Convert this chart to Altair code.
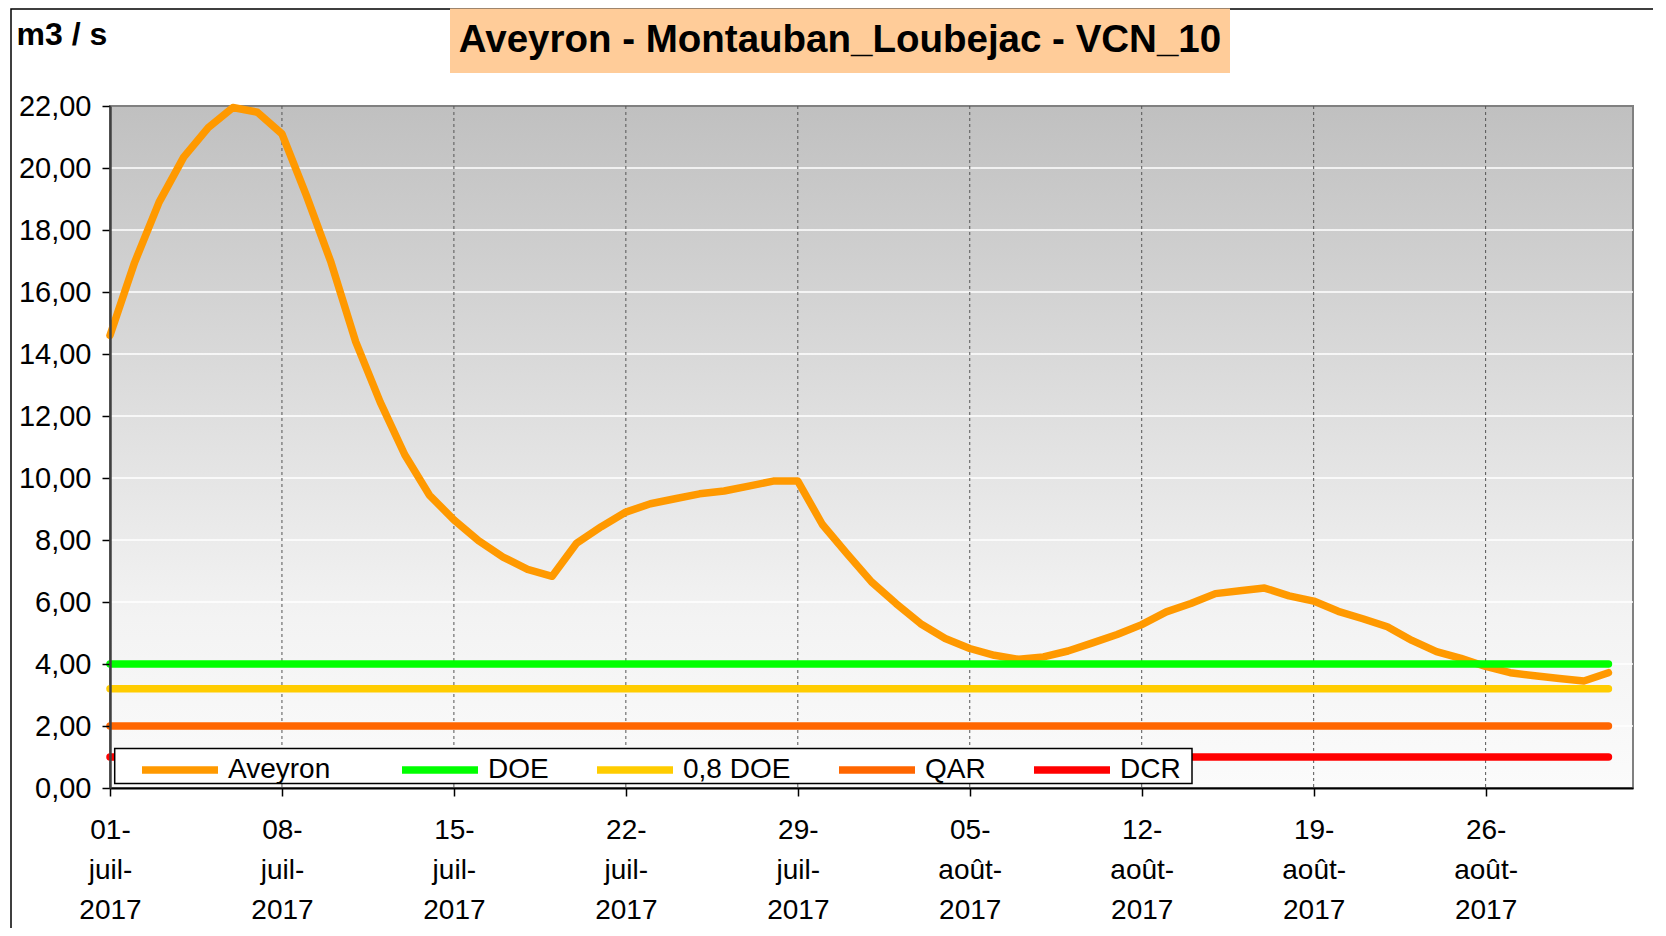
import json
import altair as alt
import pandas as pd

# ---------------- data ----------------
TITLE = "Aveyron - Montauban_Loubejac - VCN_10"
Y_TITLE = "m3 / s"

DATES = pd.date_range("2017-07-01", "2017-08-31", freq="D").strftime("%Y-%m-%d").tolist()

AVEYRON = [
    14.6, 16.95, 18.9, 20.35, 21.3, 21.95, 21.8, 21.1, 19.1, 16.95,
    14.4, 12.45, 10.75, 9.45, 8.65, 7.98, 7.45, 7.05, 6.83, 7.9,
    8.43, 8.9, 9.17, 9.33, 9.49, 9.58, 9.74, 9.9, 9.9, 8.5,
    7.56, 6.65, 5.95, 5.3, 4.82, 4.5, 4.28, 4.15, 4.23, 4.42,
    4.68, 4.95, 5.27, 5.68, 5.95, 6.27, 6.36, 6.45, 6.2, 6.03,
    5.7, 5.46, 5.2, 4.76, 4.4, 4.18, 3.92, 3.72, 3.62, 3.53,
    3.45, 3.72,
]

SERIES = ["Aveyron", "DOE", "0,8 DOE", "QAR", "DCR"]
COLORS = ["#FF9900", "#00FF00", "#FFCC00", "#FF6600", "#FF0000"]
THRESHOLD_NAMES = ["DOE", "0,8 DOE", "QAR", "DCR"]
THRESHOLD_VALUES = [4.0, 3.2, 2.0, 1.0]

Y_TICKS = [0, 2, 4, 6, 8, 10, 12, 14, 16, 18, 20, 22]
Y_GRID = [2, 4, 6, 8, 10, 12, 14, 16, 18, 20]
X_TICK_DAYS = [0, 7, 14, 21, 28, 35, 42, 49, 56]
X_TICK_LABELS = [
    ["01-", "juil-", "2017"], ["08-", "juil-", "2017"], ["15-", "juil-", "2017"],
    ["22-", "juil-", "2017"], ["29-", "juil-", "2017"], ["05-", "août-", "2017"],
    ["12-", "août-", "2017"], ["19-", "août-", "2017"], ["26-", "août-", "2017"],
]

# ---------------- tables ----------------
flow = pd.DataFrame({
    "day": list(range(len(DATES))),
    "date": DATES,
    "value": AVEYRON,
    "series": "Aveyron",
})
last_day = len(DATES) - 1
thr_rows = []
for name, val in zip(THRESHOLD_NAMES, THRESHOLD_VALUES):
    thr_rows.append({"day": 0, "date": DATES[0], "value": val, "series": name})
    thr_rows.append({"day": last_day, "date": DATES[-1], "value": val, "series": name})
thresholds = pd.DataFrame(thr_rows)

hgrid = pd.DataFrame({"value": Y_GRID})
vgrid = pd.DataFrame({"day": X_TICK_DAYS[1:]})
one = pd.DataFrame({"t": [TITLE]})

W, H = 1523, 682
LABEL_FONT = "Liberation Sans"
PAD = "\u00a0\u00a0\u00a0\u200b"   # trailing room after "Aveyron" (kept from trimming)

x_scale = alt.Scale(domain=[0, 62], nice=False, zero=False)
y_scale = alt.Scale(domain=[0, 22], nice=False)

x_axis = alt.Axis(
    values=X_TICK_DAYS,
    labelExpr=f"{json.dumps(X_TICK_LABELS, ensure_ascii=False)}[round(datum.value / 7)]",
    title=None, grid=False, labelFont=LABEL_FONT, labelFontSize=28, labelColor="black",
    labelAlign="center", labelBaseline="top", labelLineHeight=40.4, labelPadding=20,
    labelFlush=False, labelOverlap=False, labelBound=False,
    tickSize=8, tickColor="black", tickWidth=1.5,
    domainColor="black", domainWidth=2, zindex=1,
)
y_axis = alt.Axis(
    values=Y_TICKS,
    labelExpr="replace(format(datum.value, '.2f'), '.', ',')",
    title=Y_TITLE, titleAngle=0, titleAlign="left", titleBaseline="middle",
    titleX=-94, titleY=-72, titleFont="Liberation Sans", titleFontWeight="bold",
    titleFontSize=32, titleColor="black",
    grid=False, labelFont=LABEL_FONT, labelFontSize=29, labelColor="black",
    labelPadding=11, labelOverlap=False, labelFlush=False,
    tickSize=8, tickColor="black", tickWidth=1.5,
    domainColor="#404040", domainWidth=2.5, zindex=1,
)

X = alt.X("day:Q", scale=x_scale, axis=x_axis)
Y = alt.Y("value:Q", scale=y_scale, axis=y_axis)

color = alt.Color(
    "series:N",
    scale=alt.Scale(domain=SERIES, range=COLORS),
    legend=alt.Legend(
        title=None, orient="none", legendX=28, legendY=622, direction="horizontal",
        symbolType="stroke", symbolSize=5776, symbolStrokeWidth=7.5,
        labelFont=LABEL_FONT, labelFontSize=28, labelColor="black",
        labelExpr=f"datum.label == 'Aveyron' ? 'Aveyron{PAD}' : datum.label",
        labelOffset=6, columnPadding=33, padding=0, labelLimit=400,
    ),
)

frame = alt.Chart(one).mark_rect(filled=False, stroke="black", strokeWidth=1.5).encode(
    x=alt.value(-99), x2=alt.value(1700), y=alt.value(-97), y2=alt.value(1000)
)
title_box = alt.Chart(one).mark_rect(color="#FFCC99").encode(
    x=alt.value(340), x2=alt.value(1120), y=alt.value(-97.5), y2=alt.value(-33)
)
title_text = alt.Chart(one).mark_text(
    font="Liberation Sans", fontSize=38.5, fontWeight="bold", align="center",
    baseline="middle", color="black"
).encode(x=alt.value(730), y=alt.value(-66), text="t:N")

background = alt.Chart(one).mark_rect(
    fill={
        "gradient": "linear", "x1": 0, "y1": 0, "x2": 0, "y2": 1,
        "stops": [
            {"offset": 0, "color": "#C0C0C0"},
            {"offset": 0.75, "color": "#F3F3F3"},
            {"offset": 1, "color": "#FBFBFB"},
        ],
    },
    stroke="#808080", strokeWidth=2,
).encode(x=alt.value(0), x2=alt.value(W), y=alt.value(0), y2=alt.value(H))

hrules = alt.Chart(hgrid).mark_rule(color="white", strokeWidth=1.5).encode(y=Y)
vrules = alt.Chart(vgrid).mark_rule(color="#555555", strokeWidth=1, strokeDash=[3, 3]).encode(x=X)

flow_line = alt.Chart(flow).mark_line(strokeWidth=7.5, strokeCap="round", strokeJoin="round").encode(
    x=X, y=Y, color=color
)
thr_lines = alt.Chart(thresholds).mark_line(strokeWidth=7.5, strokeCap="round").encode(
    x=X, y=Y, color=color, detail="series:N"
)

legend_box = alt.Chart(one).mark_rect(fill="white", stroke="black", strokeWidth=1.5).encode(
    x=alt.value(4.7), x2=alt.value(1082), y=alt.value(642.5), y2=alt.value(677.5)
)

chart = alt.layer(
    frame, title_box, title_text, background, hrules, vrules, flow_line, thr_lines, legend_box
).properties(
    width=W, height=H,
    padding={"left": 102, "top": 98, "right": 20, "bottom": 140},
    autosize=alt.AutoSizeParams(type="none"),
).configure_view(stroke=None).configure(background="white")

chart.save("out.html", embed_options={"renderer": "svg", "actions": False})
